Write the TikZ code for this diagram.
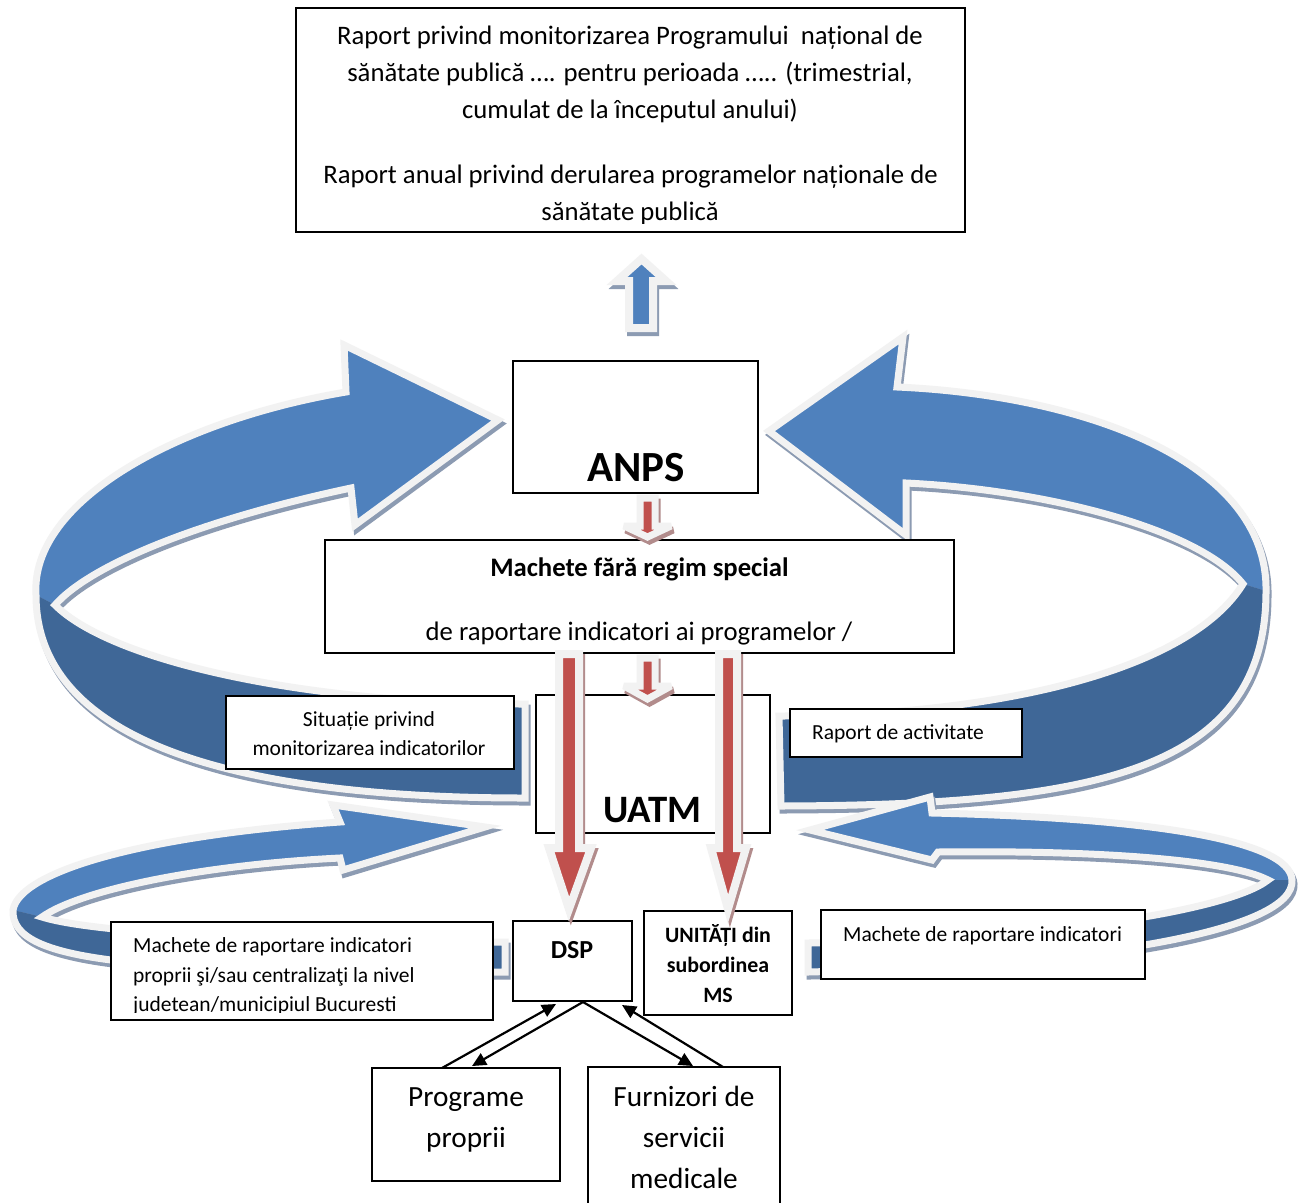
\documentclass[tikz,border=0pt]{standalone}
\usepackage{fontspec}
\setmainfont{Carlito}
\usetikzlibrary{arrows.meta}
\definecolor{lblue}{RGB}{79,129,189}
\definecolor{dblue}{RGB}{63,103,151}
\definecolor{redf}{RGB}{192,80,77}
\definecolor{rim}{RGB}{242,242,242}
\definecolor{bshadow}{RGB}{140,155,178}
\definecolor{rshadow}{RGB}{178,140,140}
\newcommand\fsMain{\fontsize{26.7}{30}\selectfont}
\newcommand\fsSmall{\fontsize{21.5}{25}\selectfont}
\newcommand\fsBig{\fontsize{29.3}{33}\selectfont}
\newcommand\fsANPS{\fontsize{43}{47}\selectfont\bfseries}
\newcommand\fsUATM{\fontsize{38.8}{42}\selectfont\bfseries}
\newcommand\fsDSP{\fontsize{26}{30}\selectfont\bfseries}
\newcommand\fsUnit{\fontsize{21.9}{25}\selectfont\bfseries}
\newcommand\boxnode[5]{\node[box, minimum width={#4-#2}, minimum height={#5-#3}] (#1) at ({(#2+#4)/2},{(#3+#5)/2}) {};}
% ribbon paths
\newcommand\TLfull[1]{\path[#1] (351,488) -- (355,525) -- (498,420) -- (344,345) -- (346,392) .. controls (180,420) and (30,500) .. (36,595) .. controls (36,740) and (230,798) .. (525,798) -- (525,704) .. controls (300,704) and (110,660) .. (55,605) .. controls (90,565) and (200,520) .. (351,488) -- cycle;}
\newcommand\TLlight[1]{\path[#1] (346,392) .. controls (180,420) and (30,500) .. (36,595) -- (55,605) .. controls (90,565) and (200,520) .. (351,488) -- (355,525) -- (498,420) -- (344,345) -- cycle;}
\newcommand\TLdark[1]{\path[#1] (36,595) .. controls (36,740) and (230,798) .. (525,798) -- (525,704) .. controls (300,704) and (110,660) .. (55,605) -- cycle;}
\newcommand\TRfull[1]{\path[#1] (906,483) -- (906,535) -- (769,431) -- (903,337) -- (897,387) .. controls (1080,395) and (1268,460) .. (1266,591) .. controls (1266,770) and (1100,805) .. (781,806) -- (779,716) .. controls (1000,716) and (1190,670) .. (1243,584) .. controls (1200,530) and (1050,490) .. (906,483) -- cycle;}
\newcommand\TRlight[1]{\path[#1] (897,387) .. controls (1080,395) and (1268,460) .. (1266,591) -- (1243,584) .. controls (1200,530) and (1050,490) .. (906,483) -- (906,535) -- (769,431) -- (903,337) -- cycle;}
\newcommand\TRdark[1]{\path[#1] (1266,591) .. controls (1266,770) and (1100,805) .. (781,806) -- (779,716) .. controls (1000,716) and (1190,670) .. (1243,584) -- cycle;}
\newcommand\LLfull[1]{\path[#1] (340,858) -- (343,870) -- (485,827) -- (333,805) -- (340,822) .. controls (150,835) and (20,870) .. (13,910) .. controls (10,965) and (150,972) .. (505,972) -- (505,942) .. controls (300,942) and (100,935) .. (42,917) .. controls (80,890) and (200,865) .. (340,858) -- cycle;}
\newcommand\LLlight[1]{\path[#1] (340,822) .. controls (150,835) and (20,870) .. (13,910) -- (42,917) .. controls (80,890) and (200,865) .. (340,858) -- (343,870) -- (485,827) -- (333,805) -- cycle;}
\newcommand\LLdark[1]{\path[#1] (13,910) .. controls (10,965) and (150,972) .. (505,972) -- (505,942) .. controls (300,942) and (100,935) .. (42,917) -- cycle;}
\newcommand\LRfull[1]{\path[#1] (938,852) -- (932,860) -- (810,830) -- (930,797) -- (932,813) .. controls (1150,818) and (1290,840) .. (1292,880) .. controls (1295,930) and (1100,965) .. (808,972) -- (808,943) .. controls (1050,940) and (1230,910) .. (1268,880) .. controls (1230,860) and (1100,850) .. (938,852) -- cycle;}
\newcommand\LRlight[1]{\path[#1] (932,813) .. controls (1150,818) and (1290,840) .. (1292,880) -- (1268,880) .. controls (1230,860) and (1100,850) .. (938,852) -- (932,860) -- (810,830) -- (930,797) -- cycle;}
\newcommand\LRdark[1]{\path[#1] (1292,880) .. controls (1295,930) and (1100,965) .. (808,972) -- (808,943) .. controls (1050,940) and (1230,910) .. (1268,880) -- cycle;}
\newcommand\ribbon[3]{%
  #1{fill=bshadow, draw=bshadow, line width=7pt, line join=miter, miter limit=10, shift={(2,4)}}%
  #2{fill=lblue}%
  #3{fill=dblue}%
  #1{draw=rim, line width=7pt, line join=miter, miter limit=10}}
\tikzset{
  box/.style={draw=black, line width=1.5pt, fill=white, rectangle, inner sep=0pt},
  txt/.style={inner sep=0pt, anchor=base},
  txtl/.style={inner sep=0pt, anchor=base west},
  blk/.style={draw=black, line width=2.2pt, -{Triangle[length=14pt,width=13pt]}},
  blockshadow/.style={fill=#1, draw=#1, line width=8pt, line join=miter, miter limit=4, shift={(2,4)}},
  blockarrow/.style={fill=#1, draw=rim, line width=8pt, line join=miter, miter limit=4},
}
\begin{document}
\begin{tikzpicture}[x=1pt,y=-1pt]
\clip (0,0) rectangle (1305,1202);
\fill[white] (0,0) rectangle (1305,1202);
% ribbons
\ribbon{\TLfull}{\TLlight}{\TLdark}
\ribbon{\TRfull}{\TRlight}{\TRdark}
\ribbon{\LLfull}{\LLlight}{\LLdark}
\ribbon{\LRfull}{\LRlight}{\LRdark}
% boxes
\boxnode{topbox}{296}{8}{965}{232}
\boxnode{anps}{513}{361}{758}{493}
\boxnode{mach}{325}{540}{954}{653}
\boxnode{uatm}{536}{695}{770}{833}
\boxnode{sit}{226}{696}{514}{769}
\boxnode{rap}{790}{709}{1022}{757}
\boxnode{machL}{111}{922}{493}{1020}
\boxnode{dsp}{513}{921}{632}{1001}
\boxnode{unit}{644}{911}{792}{1015}
\boxnode{machR}{821}{910}{1145}{979}
\boxnode{prog}{372}{1068}{560}{1181}
\boxnode{furn}{588}{1067}{780}{1215}
% texts
\node[txt, font=\fsMain] (t1) at (630,44) {Raport privind monitorizarea Programului\ \ național de};
\node[txt, font=\fsMain] (t2) at (630,81) {sănătate publică …. pentru perioada ….. (trimestrial,};
\node[txt, font=\fsMain] (t3) at (630,118) {cumulat de la începutul anului)};
\node[txt, font=\fsMain] (t4) at (630.5,183) {Raport anual privind derularea programelor naționale de};
\begin{scope}
\clip (296,8) rectangle (965,223);
\node[txt, font=\fsMain] (t5) at (630,220) {sănătate publică};
\end{scope}
\node[txt, font=\fsANPS] (tanps) at (636,481) {ANPS};
\node[txt, font=\fsMain\bfseries] (tm1) at (639.5,576) {Machete fără regim special};
\node[txt, font=\fsMain] (tm2) at (639,640) {de raportare indicatori ai programelor /};
\node[txt, font=\fsUATM] (tuatm) at (652.5,822) {UATM};
\node[txt, font=\fsSmall] (ts1) at (369,726.5) {Situație privind};
\node[txt, font=\fsSmall] (ts2) at (369,755.5) {monitorizarea indicatorilor};
\node[txtl, font=\fsSmall] (tr1) at (812,739.5) {Raport de activitate};
\node[txtl, font=\fsSmall] (tl1) at (133,952.5) {Machete de raportare indicatori};
\node[txtl, font=\fsSmall] (tl2) at (133,982.5) {proprii şi/sau centralizaţi la nivel};
\begin{scope}
\clip (111,922) rectangle (493,1012);
\node[txtl, font=\fsSmall] (tl3) at (133,1011.5) {judetean/municipiul Bucuresti};
\end{scope}
\node[txt, font=\fsDSP] (tdsp) at (572,958) {DSP};
\node[txt, font=\fsUnit] (tu1) at (718,942) {UNITĂȚI din};
\node[txt, font=\fsUnit] (tu2) at (718,972) {subordinea};
\node[txt, font=\fsUnit] (tu3) at (718,1002) {MS};
\node[txtl, font=\fsSmall] (tmr) at (843,941.5) {Machete de raportare indicatori};
\node[txt, font=\fsBig] (tp1) at (466,1106) {Programe};
\node[txt, font=\fsBig] (tp2) at (466,1147) {proprii};
\node[txt, font=\fsBig] (tf1) at (684,1106) {Furnizori de};
\node[txt, font=\fsBig] (tf2) at (684,1147) {servicii};
\node[txt, font=\fsBig] (tf3) at (684,1188) {medicale};
% block arrows
\path[blockshadow=bshadow] (629,328) -- (653,328) -- (653,281) -- (666,281) -- (641.5,259) -- (617,281) -- (629,281) -- cycle;
\path[blockarrow=lblue] (629,328) -- (653,328) -- (653,281) -- (666,281) -- (641.5,259) -- (617,281) -- (629,281) -- cycle;
\path[blockshadow=rshadow, line width=7pt] (640,498) -- (655,498) -- (655,526) -- (671,526) -- (647.5,537) -- (624,526) -- (640,526) -- cycle;
\path[blockarrow=redf, line width=7pt] (640,498) -- (655,498) -- (655,526) -- (671,526) -- (647.5,537) -- (624,526) -- (640,526) -- cycle;
\path[blockshadow=rshadow, line width=7pt] (640,658) -- (655,658) -- (655,686) -- (671,686) -- (647.5,699) -- (624,686) -- (640,686) -- cycle;
\path[blockarrow=redf, line width=7pt] (640,658) -- (655,658) -- (655,686) -- (671,686) -- (647.5,699) -- (624,686) -- (640,686) -- cycle;
\path[blockshadow=rshadow] (559,654) -- (579,654) -- (579,848) -- (591,848) -- (569,909) -- (549,848) -- (559,848) -- cycle;
\path[blockarrow=redf] (559,654) -- (579,654) -- (579,848) -- (591,848) -- (569,909) -- (549,848) -- (559,848) -- cycle;
\path[blockshadow=rshadow] (719,654) -- (737,654) -- (737,848) -- (746,848) -- (728,909) -- (711,848) -- (719,848) -- cycle;
\path[blockarrow=redf] (719,654) -- (737,654) -- (737,848) -- (746,848) -- (728,909) -- (711,848) -- (719,848) -- cycle;
% black connectors
\coordinate (p1) at (442,1068);
\coordinate (d1) at (556,1004);
\coordinate (d2) at (583,1002);
\coordinate (p2) at (472,1066);
\coordinate (f1) at (693,1066);
\coordinate (f2) at (723,1067);
\coordinate (d3) at (622,1005);
\draw[blk] (p1) -- (d1);
\draw[blk] (d2) -- (p2);
\draw[blk] (d2) -- (f1);
\draw[blk] (f2) -- (d3);
\end{tikzpicture}
\end{document}
